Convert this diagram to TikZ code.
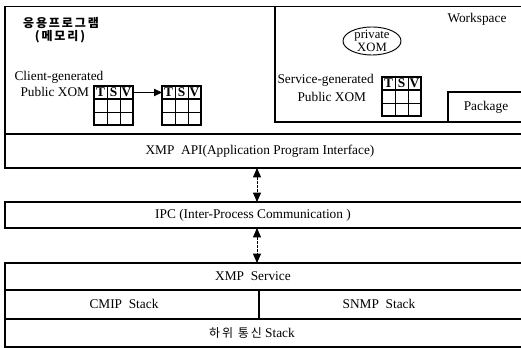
\documentclass[tikz,border=0pt]{standalone}
\usepackage{fontspec}
\setmainfont{Liberation Serif}
\newfontfamily\kofont[LetterSpace=16]{Noto Sans CJK KR}
\usetikzlibrary{arrows.meta,shapes.geometric}

% one T|S|V table: header row node #1h and a two-row body node #1b
\newcommand\tsvgrid[3]{%
  \node[cellrow] (#1h) at (#2,#3) {};
  \node[cellbody, anchor=north west] (#1b) at (#1h.south west) {};
  \draw[gridline] (#1h.north west) ++(13,0) -- ++(0,39);
  \draw[gridline] (#1h.north west) ++(26,0) -- ++(0,39);
  \draw[gridline] (#1b.west) -- (#1b.east);
  \path (#1h.north west) ++(6.5,6.5) node[cellletter] {T}
        ++(13,0) node[cellletter] {S}
        ++(13,0) node[cellletter] {V};
}

\begin{document}
\begin{tikzpicture}[x=0.75pt,y=-0.75pt,line width=0.8pt,
  layer/.style={draw, anchor=north west, inner sep=0pt, outer sep=0pt},
  label/.style={font=\fontsize{10}{12}\selectfont, inner sep=0pt},
  ko/.style={font=\kofont\fontsize{9}{11}\selectfont\bfseries, inner sep=0pt},
  cellrow/.style={draw, anchor=north west, inner sep=0pt, outer sep=0pt,
    minimum width=29.25pt, minimum height=9.75pt},
  cellbody/.style={draw, inner sep=0pt, outer sep=0pt,
    minimum width=29.25pt, minimum height=19.5pt},
  gridline/.style={line width=0.7pt},
  cellletter/.style={font=\fontsize{10}{10}\selectfont\bfseries, inner sep=0pt},
  link/.style={-{Triangle[length=6pt,width=5.5pt]}, line width=0.6pt},
  updown/.style={{Triangle[length=7pt,width=6pt]}-{Triangle[length=7pt,width=6pt]},
    line width=0.6pt, dash pattern=on 2pt off 1pt}]

\useasboundingbox (0,0) rectangle (521,348);
\clip (0,0) rectangle (521,348);

% application area with workspace
\node[layer, minimum width=390.75pt, minimum height=95.625pt] (app) at (5,6.5) {};
\node[layer, minimum width=188.25pt, minimum height=86.625pt] (ws) at (275,6.5) {};
\node[layer, minimum width=58.5pt, minimum height=22.5pt] (pkg) at (448,92) {};

\node[ko] (apptitle) at (61,23) {응용프로그램};
\node[ko] (memtitle) at (60,37) {(메모리)};
\node[label, anchor=west] (cgen) at (14,77) {Client-generated};
\node[label, anchor=west] (cpub) at (20,92) {Public XOM};

\tsvgrid{ga}{94}{86}
\tsvgrid{gb}{162}{86}
\draw[link] (gah.east) -- (gbh.west);

\node[label] (wstitle) at (477,19) {Workspace};
\node[draw, ellipse, minimum width=43.5pt, minimum height=21pt, inner sep=0pt,
  line width=0.7pt] (priv) at (372,41) {};
\node[label, align=center, font=\fontsize{9.5}{9.5}\selectfont] (privtext) at (priv.center) {private\\XOM};
\node[label, anchor=west] (sgen) at (277,80) {Service-generated};
\node[label, anchor=west] (spub) at (297,97) {Public XOM};
\tsvgrid{gc}{382}{77}
\node[label] (pkgtext) at (486,107) {Package};

% interface and transport layers
\node[layer, minimum width=390.75pt, minimum height=25.5pt] (api) at (5,134) {};
\node[label] (apitext) at (260,151) {XMP\enspace API(Application Program Interface)};
\node[layer, minimum width=390.75pt, minimum height=19.5pt] (ipc) at (5,202) {};
\node[label] (ipctext) at (253,215) {IPC (Inter-Process Communication )};

% service stack
\node[layer, minimum width=390.75pt, minimum height=20.25pt] (svc) at (5,263) {};
\node[label] (svctext) at (253,276) {XMP\enspace Service};
\node[layer, minimum width=190.5pt, minimum height=21.75pt] (cmip) at (5,290) {};
\node[layer, minimum width=200.25pt, minimum height=21.75pt] (snmp) at (259,290) {};
\node[label] (cmiptext) at (124,304) {CMIP\enspace Stack};
\node[label] (snmptext) at (379,304) {SNMP\enspace Stack};
\node[layer, minimum width=390.75pt, minimum height=21pt] (low) at (5,319) {};
\node[label] (lowtext) at (252,333) {{\kofont\fontsize{9}{11}\selectfont 하위 통신} Stack};

% links between layers
\coordinate (mid) at (257,0);
\draw[updown] (api.south -| mid) -- (ipc.north -| mid);
\draw[updown] (ipc.south -| mid) -- (svc.north -| mid);
\end{tikzpicture}
\end{document}
